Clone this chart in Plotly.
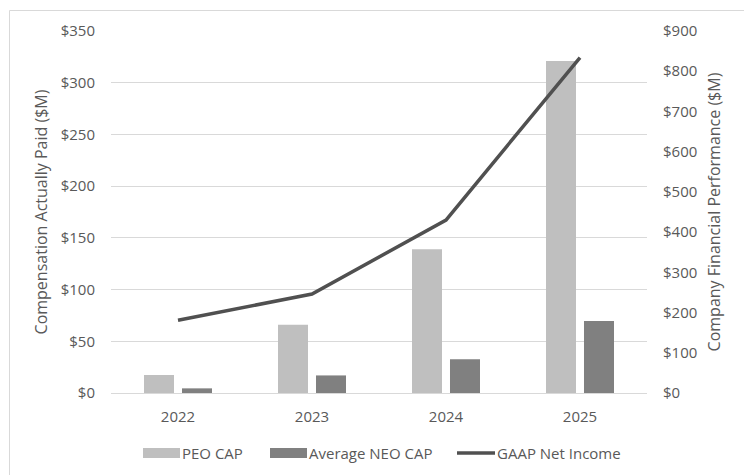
import plotly.graph_objects as go

years = ["2022", "2023", "2024", "2025"]
peo_cap = [17.4, 66, 139, 321]
neo_cap = [4.5, 17, 32.6, 69.6]
gaap_net_income = [181, 246, 430, 834]

left_ticks = [0, 50, 100, 150, 200, 250, 300, 350]
right_ticks = [0, 100, 200, 300, 400, 500, 600, 700, 800, 900]

W, H = 744, 475
L, R, T, B = 111, 647, 31, 393  # plot area in pixels


def px_x(x):
    return (x - L) / (R - L)


def px_y(y):
    return (B - y) / (B - T)


FONT = "Open Sans"
TXT = "#595959"
C_PEO = "#BFBFBF"
C_NEO = "#808080"
C_LINE = "#505050"
GRID = "#D9D9D9"
FS = 15
FT = 16

fig = go.Figure()
fig.add_trace(go.Bar(x=years, y=peo_cap, name="PEO CAP", marker_color=C_PEO,
                     marker_line_width=0, yaxis="y"))
fig.add_trace(go.Bar(x=years, y=neo_cap, name="Average NEO CAP", marker_color=C_NEO,
                     marker_line_width=0, yaxis="y"))
fig.add_trace(go.Scatter(x=years, y=gaap_net_income, name="GAAP Net Income", mode="lines",
                         line=dict(color=C_LINE, width=3.5), yaxis="y2"))

shapes = [
    # outer chart border
    dict(type="rect", xref="paper", yref="paper", x0=px_x(9.5), x1=px_x(760), y0=px_y(490),
         y1=px_y(10.5), line=dict(color=GRID, width=1), fillcolor="rgba(0,0,0,0)", layer="below"),
]
annotations = []

legend_items = [
    ("PEO CAP", "bar", C_PEO, 143, 180),
    ("Average NEO CAP", "bar", C_NEO, 270, 307),
    ("GAAP Net Income", "line", C_LINE, 457, 495),
]
ly = 453
for name, kind, col, x0, x1 in legend_items:
    if kind == "bar":
        shapes.append(dict(type="rect", xref="paper", yref="paper", x0=px_x(x0), x1=px_x(x1),
                           y0=px_y(ly + 5), y1=px_y(ly - 5), fillcolor=col, line=dict(width=0)))
    else:
        shapes.append(dict(type="line", xref="paper", yref="paper", x0=px_x(x0), x1=px_x(x1),
                           y0=px_y(ly), y1=px_y(ly), line=dict(color=col, width=3.5)))
    annotations.append(dict(text=name, xref="paper", yref="paper", x=px_x(x1), y=px_y(ly),
                            xanchor="left", yanchor="middle", showarrow=False,
                            font=dict(family=FONT, size=FS, color=TXT)))

fig.update_layout(
    width=W, height=H,
    margin=dict(l=L, r=W - R, t=T, b=H - B, pad=0),
    paper_bgcolor="white", plot_bgcolor="white",
    barmode="group", bargap=0.433, bargroupgap=0.21,
    showlegend=False,
    font=dict(family=FONT, size=FS, color=TXT),
    xaxis=dict(type="category", showgrid=False, showline=False, ticks="",
               tickfont=dict(size=FS, color=TXT), ticklabelstandoff=13),
    yaxis=dict(range=[0, 350], tickvals=left_ticks,
               ticktext=[f"${v}" for v in left_ticks],
               showgrid=True, gridcolor=GRID, gridwidth=1, zeroline=True,
               zerolinecolor=GRID, zerolinewidth=1, showline=False, ticks="",
               ticklabelstandoff=15,
               tickfont=dict(size=FS, color=TXT),
               title=dict(text="Compensation Actually Paid ($M)", standoff=9,
                          font=dict(size=FT, color=TXT))),
    yaxis2=dict(range=[0, 900], tickvals=right_ticks,
                ticktext=[f"${v}" for v in right_ticks],
                overlaying="y", side="right", showgrid=False, zeroline=False,
                showline=False, ticks="", ticklabelstandoff=15,
                tickfont=dict(size=FS, color=TXT),
                title=dict(text="Company Financial Performance ($M)", standoff=12,
                           font=dict(size=FT, color=TXT))),
    shapes=shapes,
    annotations=annotations,
)

fig.write_html("out.html")
